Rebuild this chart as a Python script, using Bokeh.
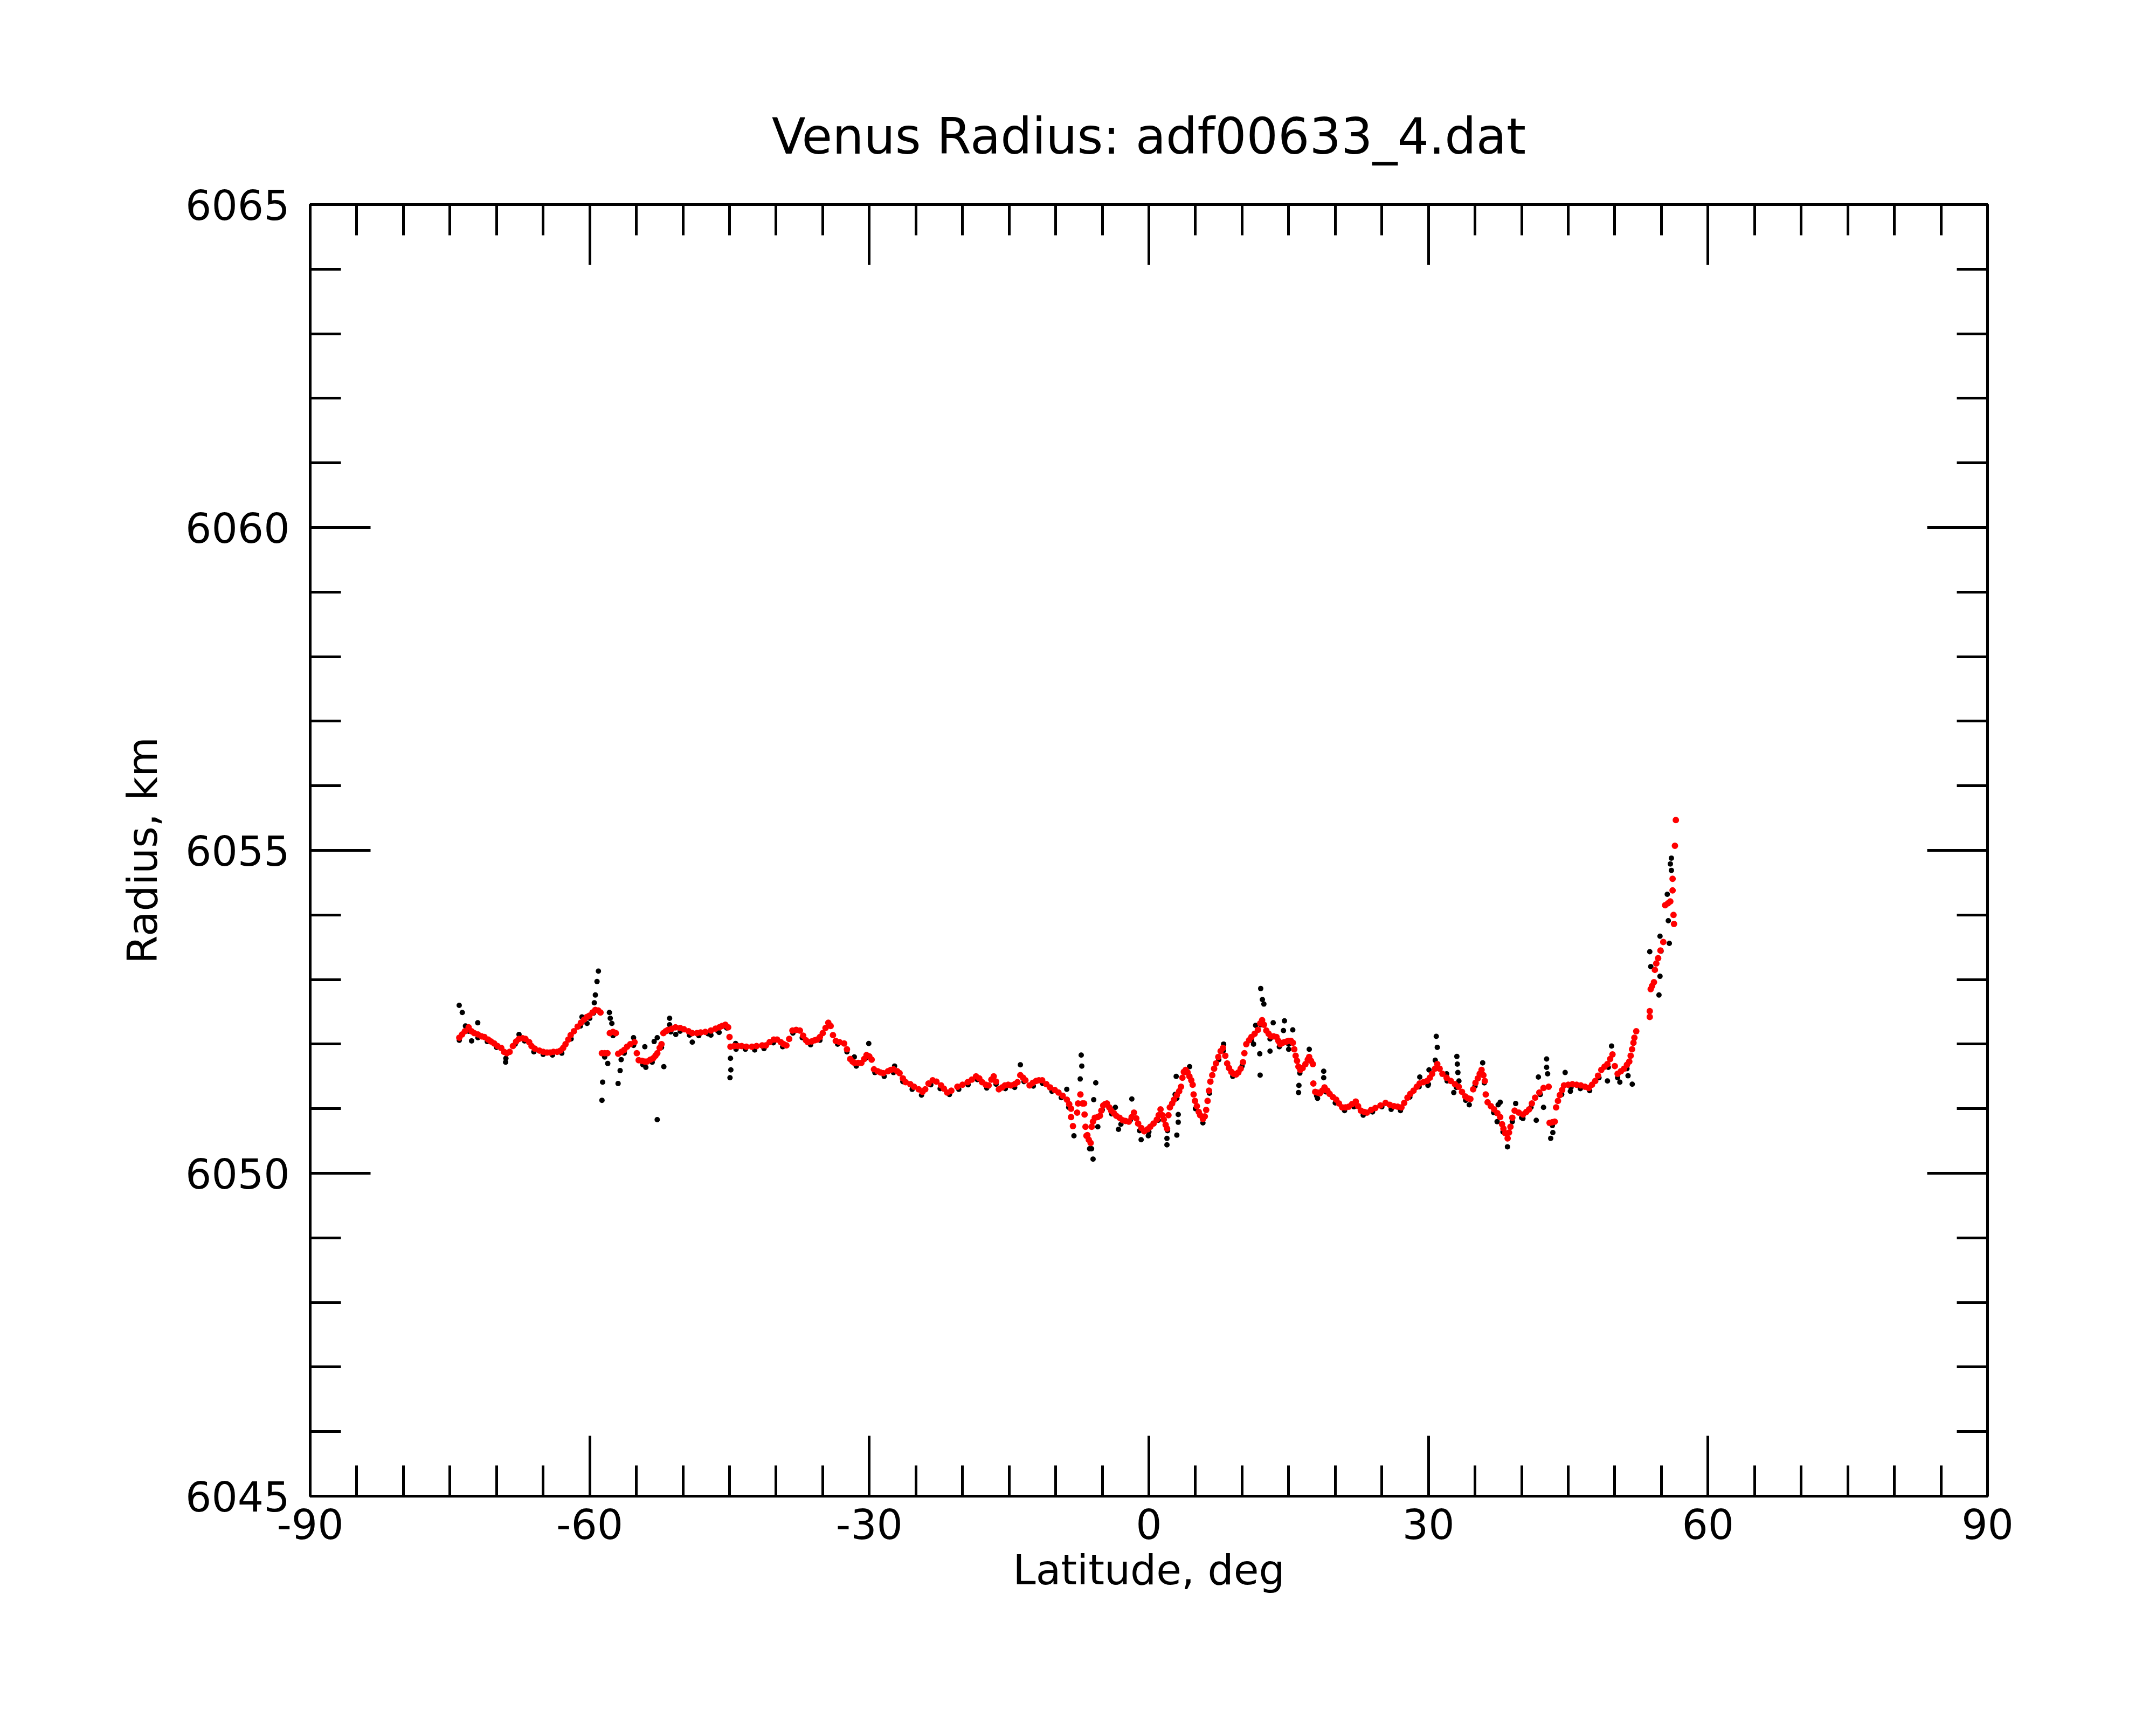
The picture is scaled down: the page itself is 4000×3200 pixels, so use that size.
from bokeh.plotting import figure
from bokeh.models import LinearAxis, Range1d, FixedTicker
from bokeh.embed import file_html
from bokeh.resources import INLINE

TITLE = "Venus Radius: adf00633_4.dat"
X_LABEL = "Latitude, deg"
Y_LABEL = "Radius, km"
X_TICKS = [-90, -60, -30, 0, 30, 60, 90]
X_TICK_LABELS = ["-90", "-60", "-30", "0", "30", "60", "90"]
Y_TICKS = [6045, 6050, 6055, 6060, 6065]

# smoothed radius (red)
red_lat = [
    -74.0, -73.7, -73.4, -73.0, -72.7, -72.4, -72.0, -71.6, -71.3, -70.9, -70.6, -70.25, -69.9, -69.5,
    -69.2, -68.9, -68.6, -68.25, -67.9, -67.6, -67.2, -66.9, -66.5, -66.25, -65.9, -65.4, -65.0, -64.6,
    -64.25, -63.9, -63.5, -63.15, -62.85, -62.6, -62.3, -62.05, -61.7, -61.3, -60.95, -60.6, -60.3, -60.05,
    -59.7, -59.4, -59.1, -58.85, -58.7, -58.4, -58.1, -57.85, -57.5, -57.2, -56.95, -56.6, -56.3, -56.0,
    -55.65, -55.2, -54.95, -54.75, -54.4, -54.1, -53.85, -53.5, -53.2, -52.95, -52.75, -52.5, -52.3, -52.1,
    -51.85, -51.6, -51.2, -50.8, -50.3, -49.9, -49.4, -49.0, -48.5, -48.1, -47.6, -47.0, -46.5, -46.1,
    -45.8, -45.45, -45.15, -45.0, -44.9, -44.5, -44.1, -43.7, -43.2, -42.6, -42.1, -41.5, -41.1,
    -40.7, -40.25, -39.9, -39.5, -39.2, -38.9, -38.6, -38.25, -37.85, -37.45, -37.1, -36.8, -36.6, -36.2,
    -35.85, -35.6, -35.3, -35.0, -34.7, -34.4, -34.15, -33.9, -33.6, -33.2, -32.7, -32.4, -32.05, -31.8,
    -31.6, -31.2, -30.85, -30.55, -30.3, -30.0, -29.75, -29.5, -29.1, -28.8, -28.5, -28.0, -27.7, -27.4,
    -27.0, -26.75, -26.4, -26.1, -25.6, -25.2, -24.7, -24.3, -24.0, -23.65, -23.2, -22.8, -22.3, -22.0,
    -21.65, -21.2, -20.55, -20.0, -19.45, -19.0, -18.55, -18.2, -17.9, -17.5, -17.2, -16.9, -16.65, -16.4,
    -16.1, -15.75, -15.45, -15.1, -14.8, -14.4, -14.1, -13.8, -13.5, -13.25, -12.8, -12.45, -12.1, -11.8,
    -11.45, -11.0, -10.6, -10.1, -9.7, -9.25, -8.8, -8.55, -8.35, -8.35, -8.15, -7.7, -7.6, -7.35,
    -7.14, -6.95, -6.9, -6.8, -6.7, -6.6, -6.45, -6.25, -6.14, -6.0, -5.8, -5.5, -5.25, -5.1,
    -4.9, -4.7, -4.5, -4.25, -4.05, -3.75, -3.5, -3.15, -2.8, -2.5, -2.15, -1.85, -1.6, -1.35,
    -1.15, -0.8, -0.5, -0.15, 0.15, 0.5, 0.85, 1.05, 1.25, 1.45, 1.6, 1.8, 1.95, 2.1,
    2.25, 2.5, 2.7, 3.0, 3.25, 3.45, 3.6, 3.75, 3.95, 4.15, 4.35, 4.55, 4.7, 4.8,
    4.95, 5.15, 5.35, 5.5, 5.8, 6.0, 6.15, 6.3, 6.45, 6.6, 6.8, 7.0, 7.2, 7.45,
    7.7, 7.95, 8.2, 8.4, 8.6, 8.85, 9.1, 9.35, 9.6, 9.85, 10.1, 10.25, 10.45, 10.75,
    11.0, 11.35, 11.7, 11.95, 12.15, 12.35, 12.6, 12.85, 13.1, 13.4, 13.7, 13.9, 14.1, 14.35,
    14.55, 14.8, 15.0, 15.25, 15.45, 15.6, 15.75, 15.9, 16.05, 16.25, 16.5, 16.8, 17.05, 17.2,
    17.4, 17.6, 17.65, 17.85, 18.1, 18.35, 18.6, 18.85, 19.15, 19.4, 19.75, 20.1, 20.4, 20.75,
    21.1, 21.45, 21.8, 22.2, 22.45, 22.75, 23.1, 23.4, 23.85, 24.3, 24.85, 25.4, 25.85, 26.3,
    26.7, 27.1, 27.4, 27.75, 28.05, 28.4, 28.75, 29.05, 29.45, 29.85, 30.15, 30.4, 30.7, 30.95,
    31.2, 31.5, 31.95, 32.4, 32.85, 33.25, 33.6, 33.95, 34.25, 34.5, 34.8, 35.05, 35.3, 35.5,
    35.7, 35.9, 36.05, 36.15, 36.35, 36.7, 37.05, 37.4, 37.7, 37.9, 38.05, 38.25, 38.5, 38.65,
    38.8, 39.0, 39.25, 39.7, 40.15, 40.5, 40.8, 41.1, 41.45, 41.9, 42.35, 42.9, 43.0, 43.3,
    43.55, 43.7, 43.9, 44.1, 44.35, 44.55, 45.0, 45.45, 45.9, 46.35, 46.8, 47.2, 47.55, 47.9,
    48.2, 48.55, 48.9, 49.2, 49.5, 49.75, 50.0, 50.3, 50.65, 51.0, 51.3, 51.55, 51.7, 51.85,
    52.0, 52.1, 52.3, 53.75, 53.75, 53.85, 54.0, 54.2, 54.3, 54.45, 54.65, 54.9, 55.2, 55.4,
    55.7, 55.95, 56.2, 56.2, 56.3, 56.35, 56.45, 56.55,
]
red_r = [
    6052.10, 6052.15, 6052.20, 6052.26, 6052.20, 6052.17, 6052.15, 6052.12, 6052.11, 6052.07, 6052.04, 6052.01, 6051.97, 6051.94,
    6051.88, 6051.86, 6051.88, 6051.97, 6052.04, 6052.08, 6052.09, 6052.08, 6052.03, 6051.97, 6051.93, 6051.90, 6051.88, 6051.87,
    6051.87, 6051.88, 6051.88, 6051.90, 6051.94, 6052.00, 6052.07, 6052.14, 6052.20, 6052.27, 6052.33, 6052.38, 6052.42, 6052.44,
    6052.49, 6052.53, 6052.52, 6052.49, 6051.86, 6051.86, 6051.86, 6052.17, 6052.19, 6052.17, 6051.85, 6051.88, 6051.91, 6051.96,
    6052.00, 6052.03, 6051.86, 6051.75, 6051.74, 6051.73, 6051.73, 6051.76, 6051.78, 6051.82, 6051.86, 6051.94, 6052.00, 6052.17,
    6052.20, 6052.22, 6052.24, 6052.26, 6052.25, 6052.23, 6052.20, 6052.17, 6052.17, 6052.18, 6052.19, 6052.21, 6052.24, 6052.26,
    6052.28, 6052.30, 6052.26, 6052.11, 6051.96, 6051.97, 6051.97, 6051.97, 6051.96, 6051.96, 6051.97, 6051.98, 6051.98,
    6052.03, 6052.07, 6052.07, 6052.03, 6052.00, 6051.98, 6052.08, 6052.21, 6052.22, 6052.21, 6052.13, 6052.06, 6052.03, 6052.04,
    6052.06, 6052.07, 6052.11, 6052.17, 6052.25, 6052.33, 6052.28, 6052.14, 6052.05, 6052.03, 6052.01, 6051.92, 6051.77, 6051.73,
    6051.71, 6051.71, 6051.71, 6051.77, 6051.83, 6051.81, 6051.76, 6051.61, 6051.58, 6051.56, 6051.55, 6051.58, 6051.60, 6051.61,
    6051.58, 6051.55, 6051.47, 6051.41, 6051.38, 6051.34, 6051.30, 6051.26, 6051.30, 6051.39, 6051.44, 6051.42, 6051.36, 6051.31,
    6051.25, 6051.28, 6051.34, 6051.37, 6051.41, 6051.45, 6051.50, 6051.47, 6051.41, 6051.37, 6051.36, 6051.45, 6051.50, 6051.42,
    6051.30, 6051.33, 6051.36, 6051.37, 6051.36, 6051.38, 6051.41, 6051.52, 6051.48, 6051.44, 6051.36, 6051.40, 6051.43, 6051.44,
    6051.44, 6051.38, 6051.33, 6051.29, 6051.25, 6051.20, 6051.14, 6051.07, 6051.00, 6050.87, 6050.73, 6050.94, 6051.08, 6051.22,
    6051.08, 6051.08, 6050.91, 6050.72, 6050.58, 6050.59, 6050.52, 6050.47, 6050.72, 6050.80, 6050.86, 6050.87, 6050.89, 6050.97,
    6051.05, 6051.07, 6051.08, 6051.02, 6050.97, 6050.93, 6050.89, 6050.86, 6050.82, 6050.81, 6050.80, 6050.87, 6050.94, 6050.85,
    6050.77, 6050.70, 6050.65, 6050.68, 6050.72, 6050.77, 6050.83, 6050.90, 6050.99, 6050.90, 6050.83, 6050.75, 6050.69, 6050.90,
    6051.02, 6051.08, 6051.14, 6051.21, 6051.27, 6051.34, 6051.48, 6051.57, 6051.60, 6051.56, 6051.50, 6051.44, 6051.37, 6051.22,
    6051.12, 6051.04, 6050.95, 6050.90, 6050.84, 6050.88, 6050.98, 6051.12, 6051.28, 6051.42, 6051.52, 6051.62, 6051.70, 6051.80,
    6051.89, 6051.94, 6051.82, 6051.70, 6051.63, 6051.57, 6051.54, 6051.53, 6051.56, 6051.62, 6051.72, 6051.86, 6052.00, 6052.06,
    6052.11, 6052.16, 6052.22, 6052.32, 6052.37, 6052.30, 6052.21, 6052.16, 6052.12, 6052.12, 6052.11, 6052.05, 6052.00, 6052.02,
    6052.03, 6052.04, 6052.05, 6052.05, 6052.02, 6051.92, 6051.82, 6051.74, 6051.65, 6051.60, 6051.63, 6051.69, 6051.76, 6051.80,
    6051.74, 6051.69, 6051.39, 6051.26, 6051.25, 6051.24, 6051.28, 6051.33, 6051.28, 6051.23, 6051.18, 6051.14, 6051.08, 6051.02,
    6051.02, 6051.03, 6051.07, 6051.11, 6051.04, 6050.97, 6050.95, 6050.94, 6050.98, 6051.01, 6051.05, 6051.09, 6051.06, 6051.04,
    6051.03, 6051.02, 6051.09, 6051.17, 6051.23, 6051.28, 6051.34, 6051.39, 6051.41, 6051.43, 6051.48, 6051.54, 6051.62, 6051.69,
    6051.62, 6051.54, 6051.48, 6051.43, 6051.38, 6051.34, 6051.26, 6051.19, 6051.16, 6051.15, 6051.30, 6051.40, 6051.47, 6051.54,
    6051.60, 6051.52, 6051.43, 6051.22, 6051.10, 6051.04, 6050.99, 6050.93, 6050.87, 6050.76, 6050.69, 6050.62, 6050.54, 6050.63,
    6050.72, 6050.86, 6050.97, 6050.94, 6050.91, 6050.95, 6050.99, 6051.08, 6051.17, 6051.25, 6051.32, 6051.34, 6050.78, 6050.79,
    6050.80, 6051.02, 6051.12, 6051.21, 6051.29, 6051.36, 6051.37, 6051.38, 6051.37, 6051.36, 6051.34, 6051.32, 6051.37, 6051.43,
    6051.51, 6051.60, 6051.65, 6051.69, 6051.77, 6051.84, 6051.66, 6051.54, 6051.58, 6051.62, 6051.68, 6051.73, 6051.82, 6051.92,
    6052.02, 6052.10, 6052.20, 6052.42, 6052.51, 6052.85, 6052.90, 6052.96, 6053.15, 6053.25, 6053.33, 6053.45, 6053.58, 6054.15,
    6054.18, 6054.21, 6054.38, 6054.56, 6054.00, 6053.86, 6055.07, 6055.47,
]

# raw radius (black)
blk_lat = [
    -74.0, -73.0, -72.0, -71.0, -70.0, -69.0, -68.0, -67.0, -66.0, -65.0, -64.0, -63.0, -62.0, -61.0,
    -60.0, -59.6, -58.4, -57.5, -56.3, -55.3, -54.3, -53.3, -52.3, -51.3, -50.3, -49.3, -48.3, -47.3,
    -46.3, -45.3, -44.3, -43.3, -42.3, -41.3, -40.3, -39.3, -38.2, -37.2, -36.3, -35.3, -34.4, -33.4,
    -32.4, -31.4, -30.4, -29.4, -28.4, -27.4, -26.4, -25.4, -24.4, -23.4, -22.4, -21.4, -20.4, -19.4,
    -18.4, -17.4, -16.4, -15.4, -14.4, -13.4, -12.4, -11.4, -10.4, -9.4, -8.6, -5.0, -4.0, -3.0,
    -2.0, -1.0, 0.0, 1.0, 2.0, 3.0, 4.0, 5.0, 5.8, 6.5, 7.5, 8.0, 9.0, 10.0,
    11.0, 12.0, 13.0, 14.0, 15.0, 16.2, 17.2, 18.0, 19.0, 20.0, 21.0, 22.0, 23.0, 24.0,
    25.0, 26.0, 27.0, 28.0, 29.0, 30.0, 31.0, 32.0, 33.0, 34.0, 35.0, 36.0, 37.0, 38.0,
    39.0, 40.0, 41.0, 42.0, 43.3, 44.3, 45.3, 46.3, 47.3, 48.3, 49.3, 50.3, 51.3,
    -74.01, -73.68, -73.34, -72.68, -72.02, -69.03, -67.59, -60.84, -60.29, -59.51, -59.40, -59.22, -59.07, -58.62,
    -58.69, -58.07, -57.89, -57.80, -57.63, -56.96, -56.74, -56.63, -55.30, -54.09, -53.98, -52.76, -52.05, -53.09,
    -52.76, -51.43, -51.43, -50.77, -49.00, -47.00, -46.12, -44.90, -44.86, -44.95, -44.35, -30.06, -31.61, -27.29,
    -13.79, -7.26, -7.20, -7.37, -8.04, -8.81, -6.15, -5.70, -5.92, -5.48, -6.36, -5.99, -3.60, -3.26,
    -1.83, -0.83, -0.06, 1.94, 1.94, 3.00, 3.15, 3.15, 2.93, 2.82, 4.37, 8.02, 12.00, 12.18,
    12.34, 11.46, 11.23, 11.90, 11.94, 13.00, 13.34, 14.55, 15.44, 14.44, 15.00, 16.10, 16.06, 17.21,
    18.76, 18.76, 18.10, 30.84, 30.95, 30.73, 30.06, 29.07, 29.95, 31.95, 33.05, 33.10, 33.16, 33.27,
    32.72, 34.38, 35.82, 37.48, 37.70, 37.37, 38.48, 39.36, 40.14, 41.57, 42.35, 41.80, 42.68, 42.68,
    42.79, 43.12, 43.35, 44.67, 45.23, 49.21, 49.65, 50.54, 51.42, 51.87, 54.85, 55.85, 53.75, 53.86,
    54.96, 54.85, 54.74, 55.63, 55.74, 56.07, 55.96, 56.07,
]
blk_r = [
    6052.06, 6052.20, 6052.10, 6052.04, 6051.95, 6051.78, 6052.00, 6052.05, 6051.88, 6051.84, 6051.83, 6051.86, 6052.08, 6052.28,
    6052.40, 6052.48, 6051.80, 6052.13, 6051.86, 6051.98, 6051.68, 6051.72, 6051.95, 6052.19, 6052.20, 6052.14, 6052.13, 6052.16,
    6052.21, 6052.25, 6051.92, 6051.92, 6051.91, 6051.93, 6052.02, 6051.96, 6052.17, 6052.10, 6051.99, 6052.06, 6052.28, 6052.00,
    6051.88, 6051.66, 6051.78, 6051.56, 6051.50, 6051.56, 6051.42, 6051.30, 6051.21, 6051.37, 6051.31, 6051.22, 6051.30, 6051.37,
    6051.45, 6051.32, 6051.38, 6051.31, 6051.33, 6051.42, 6051.35, 6051.39, 6051.27, 6051.17, 6051.02, 6050.98, 6050.92, 6050.76,
    6050.82, 6050.66, 6050.64, 6050.82, 6050.66, 6051.16, 6051.56, 6051.00, 6050.78, 6051.24, 6051.76, 6051.90, 6051.50, 6051.66,
    6052.06, 6052.30, 6052.08, 6051.96, 6052.00, 6051.55, 6051.75, 6051.20, 6051.26, 6051.09, 6050.97, 6051.03, 6050.90, 6050.95,
    6051.03, 6050.99, 6050.97, 6051.18, 6051.34, 6051.38, 6051.63, 6051.43, 6051.33, 6051.13, 6051.35, 6051.40, 6050.94, 6050.64,
    6050.80, 6050.86, 6051.02, 6051.22, 6050.74, 6051.22, 6051.33, 6051.31, 6051.28, 6051.48, 6051.64, 6051.48, 6051.62,
    6052.60, 6052.49, 6052.28, 6052.05, 6052.33, 6051.72, 6052.15, 6052.42, 6052.32, 6052.64, 6052.76, 6052.97, 6053.13, 6051.41,
    6051.13, 6051.70, 6052.49, 6052.40, 6052.32, 6051.39, 6051.59, 6051.76, 6052.10, 6051.96, 6051.64, 6050.83, 6051.65, 6052.04,
    6052.10, 6052.40, 6052.30, 6052.15, 6052.03, 6052.14, 6052.18, 6051.78, 6051.60, 6051.48, 6052.01, 6052.01, 6051.80, 6051.66,
    6051.68, 6051.83, 6051.66, 6051.46, 6050.58, 6051.30, 6050.38, 6051.40, 6051.14, 6050.72, 6050.38, 6050.22, 6051.02, 6050.68,
    6051.15, 6050.52, 6050.58, 6050.44, 6050.54, 6050.59, 6050.79, 6050.91, 6051.50, 6051.22, 6051.65, 6052.00, 6052.86, 6052.69,
    6052.62, 6052.29, 6052.00, 6051.85, 6051.52, 6051.89, 6052.33, 6052.36, 6052.22, 6052.21, 6051.92, 6051.36, 6051.25, 6051.92,
    6051.58, 6051.48, 6051.16, 6052.12, 6051.95, 6051.75, 6051.60, 6051.49, 6051.36, 6051.54, 6051.81, 6051.69, 6051.56, 6051.43,
    6051.25, 6051.06, 6051.71, 6051.06, 6051.10, 6050.80, 6050.41, 6051.08, 6050.85, 6050.82, 6051.02, 6051.49, 6051.77, 6051.64,
    6051.54, 6050.54, 6050.63, 6051.56, 6051.27, 6051.43, 6051.97, 6051.41, 6051.51, 6051.38, 6053.67, 6053.56, 6053.43, 6053.20,
    6053.44, 6053.05, 6052.76, 6054.32, 6053.91, 6054.88, 6054.79, 6054.69,
]

FONT = "DejaVu Sans"
LW = 5

p = figure(width=3984, height=3184,
           x_range=Range1d(-90, 90), y_range=Range1d(6045, 6065),
           output_backend="svg", toolbar_location=None,
           min_border_left=575, min_border_right=297,
           min_border_top=379, min_border_bottom=409,
           title=TITLE)
p.background_fill_color = "white"
p.border_fill_color = "white"
p.grid.visible = False
p.outline_line_color = "black"
p.outline_line_width = LW

p.title.text_font = FONT
p.title.text_font_size = "92px"
p.title.text_font_style = "normal"
p.title.align = "center"
p.title.text_color = "black"
p.title.standoff = 145

x_ticker = FixedTicker(ticks=X_TICKS, minor_ticks=list(range(-90, 91, 5)))
y_ticker = FixedTicker(ticks=Y_TICKS, minor_ticks=list(range(6045, 6066, 1)))


def style_axis(ax, ticker, labels=True):
    ax.ticker = ticker
    ax.axis_line_width = LW
    ax.axis_line_color = "black"
    ax.major_tick_line_width = LW
    ax.minor_tick_line_width = LW
    ax.major_tick_line_color = "black"
    ax.minor_tick_line_color = "black"
    ax.major_tick_in = 112
    ax.major_tick_out = 0
    ax.minor_tick_in = 57
    ax.minor_tick_out = 0
    ax.major_label_text_font = FONT
    ax.major_label_text_font_size = "76px"
    ax.major_label_text_color = "black" if labels else None
    ax.axis_label_text_font = FONT
    ax.axis_label_text_font_size = "76px"
    ax.axis_label_text_font_style = "normal"
    ax.axis_label_text_color = "black"


xb = p.xaxis[0]
style_axis(xb, x_ticker)
xb.major_label_overrides = {t: s for t, s in zip(X_TICKS, X_TICK_LABELS)}
xb.major_label_standoff = 23
xb.axis_label = X_LABEL
xb.axis_label_standoff = 10

yl = p.yaxis[0]
style_axis(yl, y_ticker)
yl.major_label_standoff = 38
yl.axis_label = Y_LABEL
yl.axis_label_standoff = 32

xt = LinearAxis()
style_axis(xt, x_ticker, labels=False)
p.add_layout(xt, "above")

yr = LinearAxis()
style_axis(yr, y_ticker, labels=False)
p.add_layout(yr, "right")

p.scatter(blk_lat, blk_r, marker="circle", size=10, fill_color="black", line_color=None)
p.scatter(red_lat, red_r, marker="circle", size=12, fill_color="#ff0000", line_color=None)

open("out.html", "w").write(file_html(p, INLINE))
